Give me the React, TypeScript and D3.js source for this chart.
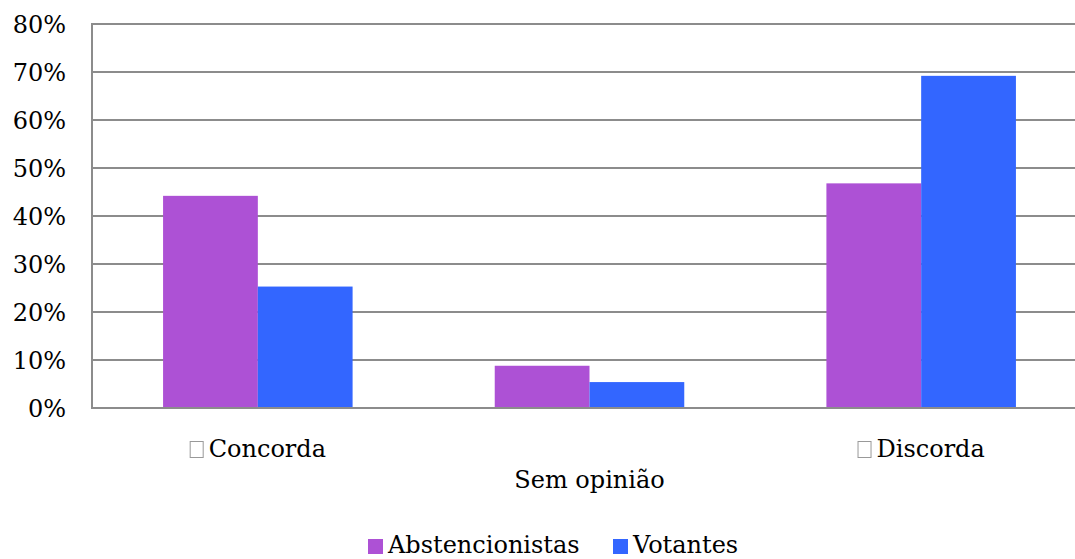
import React, { useEffect, useRef } from 'react';
import * as d3 from 'd3';

const categories = ['Concorda', 'Sem opinião', 'Discorda'];
const seriesNames = ['Abstencionistas', 'Votantes'];
const abstencionistas = [0.442, 0.088, 0.468];
const votantes = [0.253, 0.054, 0.692];
const yTicks = [0, 0.1, 0.2, 0.3, 0.4, 0.5, 0.6, 0.7, 0.8];
const colors = ['#ad51d5', '#3366ff'];

const width = 1075;
const height = 559;
const FONT = '"DejaVu Serif", serif';
const FS = '24px';

const App = () => {
  const svgRef = useRef<SVGSVGElement>(null);

  useEffect(() => {
    const svg = d3.select(svgRef.current);
    svg.selectAll('*').remove();

    const left = 92;
    const right = 1087;
    const top = 24;
    const bottom = 408;

    const x = d3.scaleBand().domain(categories).range([left, right]);
    const y = d3.scaleLinear().domain([0, 0.8]).range([bottom, top]);

    // excel-like gap width of 75%
    const groupW = x.bandwidth() / 1.75;
    const barW = groupW / 2;

    // gridlines
    svg.append('g')
      .selectAll('line')
      .data(yTicks)
      .enter()
      .append('line')
      .attr('x1', left)
      .attr('x2', right)
      .attr('y1', d => y(d))
      .attr('y2', d => y(d))
      .attr('stroke', '#8c8c8c')
      .attr('stroke-width', 2);

    svg.append('line')
      .attr('x1', left)
      .attr('x2', left)
      .attr('y1', top - 1)
      .attr('y2', bottom + 1)
      .attr('stroke', '#8c8c8c')
      .attr('stroke-width', 2);

    // y tick labels
    svg.append('g')
      .selectAll('text')
      .data(yTicks)
      .enter()
      .append('text')
      .attr('x', 66)
      .attr('y', d => y(d))
      .attr('dy', '0.36em')
      .attr('text-anchor', 'end')
      .style('font-family', FONT)
      .style('font-size', FS)
      .style('fill', '#000')
      .text(d => `${Math.round(d * 100)}%`);

    const series = [abstencionistas, votantes];
    series.forEach((vals, si) => {
      svg.append('g')
        .selectAll('rect')
        .data(vals)
        .enter()
        .append('rect')
        .attr('x', (d, i) => (x(categories[i]) as number) + (x.bandwidth() - groupW) / 2 + si * barW)
        .attr('width', barW)
        .attr('y', d => y(d))
        .attr('height', d => bottom - y(d))
        .style('fill', colors[si]);
    });

    // bottom axis line drawn over bars
    svg.append('line')
      .attr('x1', left - 1)
      .attr('x2', right)
      .attr('y1', bottom)
      .attr('y2', bottom)
      .attr('stroke', '#8c8c8c')
      .attr('stroke-width', 2);

    // category labels (middle one staggered to a second row)
    categories.forEach((c, i) => {
      const cx = (x(c) as number) + x.bandwidth() / 2;
      const staggered = i % 2 === 1;
      if (staggered) {
        svg.append('text')
          .attr('x', cx)
          .attr('y', 488)
          .attr('text-anchor', 'middle')
          .style('font-family', FONT)
          .style('font-size', FS)
          .style('fill', '#000')
          .text(c);
        return;
      }
      // missing-glyph box before the label, like the original
      const t = svg.append('text')
        .attr('y', 457)
        .style('font-family', FONT)
        .style('font-size', FS)
        .style('fill', '#000')
        .text(c);
      const tw = (t.node() as SVGTextElement).getComputedTextLength();
      const total = 14 + 5 + tw;
      const x0 = cx - total / 2;
      t.attr('x', x0 + 19);
      svg.append('rect')
        .attr('x', x0 + 0.5)
        .attr('y', 441.5)
        .attr('width', 13)
        .attr('height', 16)
        .attr('fill', 'none')
        .attr('stroke', '#999')
        .attr('stroke-width', 1);
    });

    // legend
    const legendItems = [
      { name: seriesNames[0], sx: 368, tx: 388 },
      { name: seriesNames[1], sx: 613, tx: 633 },
    ];
    legendItems.forEach((it, i) => {
      svg.append('rect')
        .attr('x', it.sx)
        .attr('y', 539)
        .attr('width', 15)
        .attr('height', 15)
        .style('fill', colors[i]);
      svg.append('text')
        .attr('x', it.tx)
        .attr('y', 553)
        .style('font-family', FONT)
        .style('font-size', FS)
        .style('fill', '#000')
        .text(it.name);
    });
  }, []);

  return (
    <div style={{ position: 'absolute', left: 0, top: 0 }}>
      <svg ref={svgRef} width={width} height={height} style={{ display: 'block', background: '#fff' }}></svg>
    </div>
  );
};

export default App;
